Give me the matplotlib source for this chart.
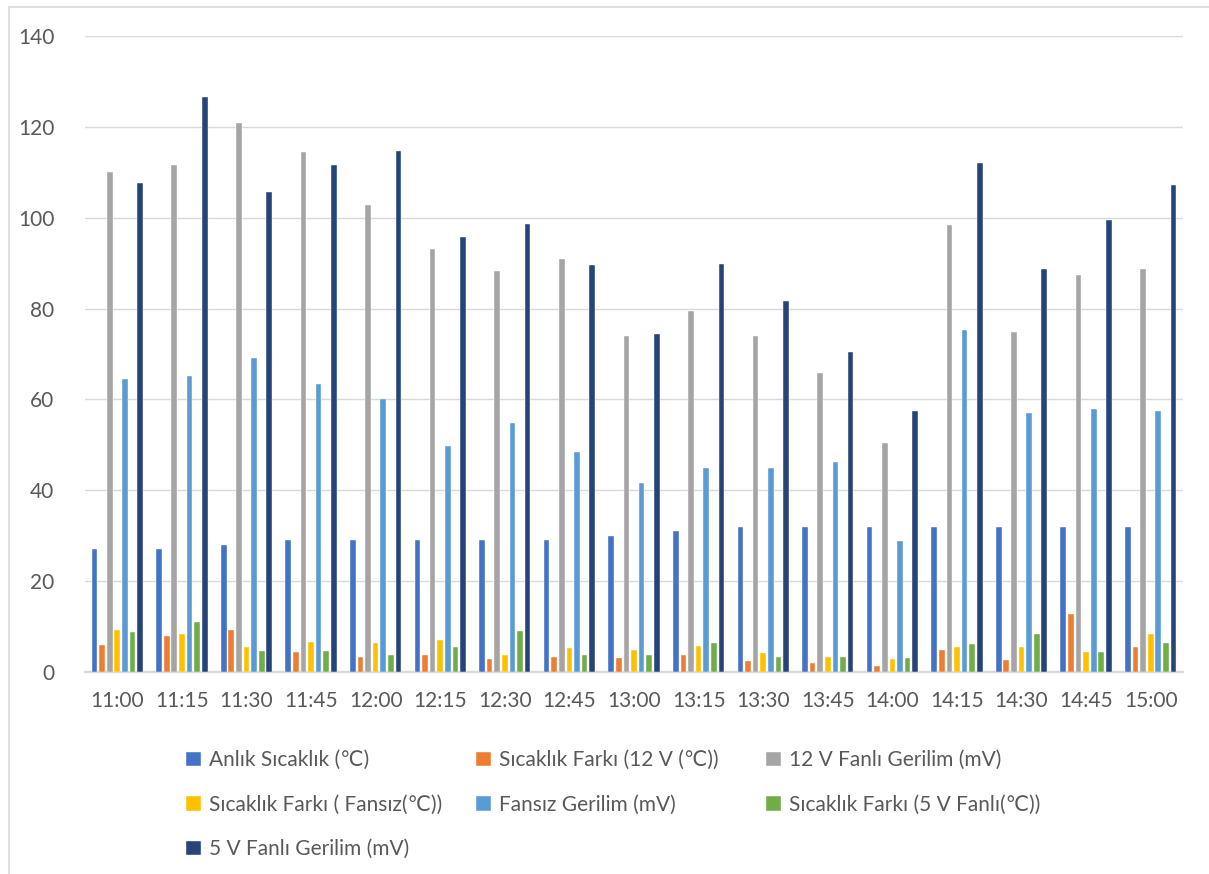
import numpy as np
import matplotlib
matplotlib.use("Agg")
import matplotlib.pyplot as plt
from matplotlib.patches import Rectangle

plt.rcParams['font.family'] = ['Lato', 'DejaVu Sans']

times = ["11:00", "11:15", "11:30", "11:45", "12:00", "12:15", "12:30", "12:45", "13:00",
         "13:15", "13:30", "13:45", "14:00", "14:15", "14:30", "14:45", "15:00"]

anlik = [27, 27, 28, 29, 29, 29, 29, 29, 30, 31, 32, 32, 32, 32, 32, 32, 32]
fark_12v = [6.0, 8.0, 9.3, 4.3, 3.4, 3.8, 2.8, 3.3, 3.1, 3.7, 2.4, 2.0, 1.3, 4.9, 2.6, 12.7, 5.4]
gerilim_12v = [110.1, 111.5, 120.8, 114.5, 102.9, 93.2, 88.2, 91.0, 74.0, 79.5, 74.0, 65.8, 50.4,
               98.5, 74.8, 87.4, 88.8]
fark_fansiz = [9.3, 8.3, 5.4, 6.7, 6.3, 7.0, 3.8, 5.2, 4.9, 5.7, 4.2, 3.2, 2.8, 5.4, 5.4, 4.4, 8.3]
gerilim_fansiz = [64.5, 65.2, 69.2, 63.5, 60.2, 49.7, 54.9, 48.4, 41.6, 44.9, 44.9, 46.2, 28.9,
                  75.2, 57.1, 57.8, 57.4]
fark_5v = [8.7, 11.0, 4.7, 4.7, 3.7, 5.4, 9.0, 3.7, 3.8, 6.4, 3.4, 3.3, 3.0, 6.1, 8.3, 4.4, 6.4]
gerilim_5v = [107.6, 126.5, 105.7, 111.6, 114.6, 95.8, 98.7, 89.7, 74.5, 89.8, 81.7, 70.4, 57.4,
              112.0, 88.7, 99.6, 107.2]

series = [
    ("Anlık Sıcaklık (℃)", anlik, "#4472C4"),
    ("Sıcaklık Farkı (12 V (℃))", fark_12v, "#ED7D31"),
    ("12 V Fanlı Gerilim (mV)", gerilim_12v, "#A5A5A5"),
    ("Sıcaklık Farkı ( Fansız(℃))", fark_fansiz, "#FFC000"),
    ("Fansız Gerilim (mV)", gerilim_fansiz, "#5B9BD5"),
    ("Sıcaklık Farkı (5 V Fanlı(℃))", fark_5v, "#70AD47"),
    ("5 V Fanlı Gerilim (mV)", gerilim_5v, "#264478"),
]

text_color = "#595959"
grid_color = "#D9D9D9"

fig = plt.figure(figsize=(12.09, 8.74), dpi=100)
ax = fig.add_axes([85 / 1209, 1 - 672 / 874, 1098 / 1209, 636 / 874])

x = np.arange(len(times))
slot = 0.1176
width = 0.088
bars = []
for i, (label, vals, color) in enumerate(series):
    b = ax.bar(x + (i - 3) * slot, vals, width, color=color, label=label,
               edgecolor="white", linewidth=0.3, zorder=3)
    bars.append(b)

ax.set_xlim(-0.5, len(times) - 0.5)
ax.set_ylim(0, 140)
ax.set_yticks(range(0, 141, 20))
ax.set_xticks(x)
ax.set_xticklabels(times)
ax.yaxis.grid(True, color=grid_color, linewidth=1.0)
ax.set_axisbelow(True)

for side in ["top", "right", "left"]:
    ax.spines[side].set_visible(False)
ax.spines["bottom"].set_color(grid_color)
ax.spines["bottom"].set_linewidth(1.7)
ax.tick_params(axis="both", length=0, labelsize=15, labelcolor=text_color)
ax.tick_params(axis="y", pad=22)
ax.tick_params(axis="x", pad=14)

# legend laid out row by row, three equal-width columns
col_x = [178, 468, 758]
for c in range(3):
    idx = list(range(c, len(series), 3))
    fig.legend([bars[k] for k in idx], [series[k][0] for k in idx],
               loc="upper left", bbox_to_anchor=(col_x[c] / 1209, 1 - 742 / 874),
               frameon=False, fontsize=15, labelcolor=text_color,
               handlelength=0.7, handleheight=0.7, handletextpad=0.4,
               labelspacing=1.17, borderaxespad=0)

# chart outline
fig.add_artist(Rectangle((9 / 1209, -0.1), 1.2, 1.1 - 7 / 874, transform=fig.transFigure,
                         fill=False, edgecolor=grid_color, linewidth=1.2))

fig.savefig("out.png", dpi=100)
